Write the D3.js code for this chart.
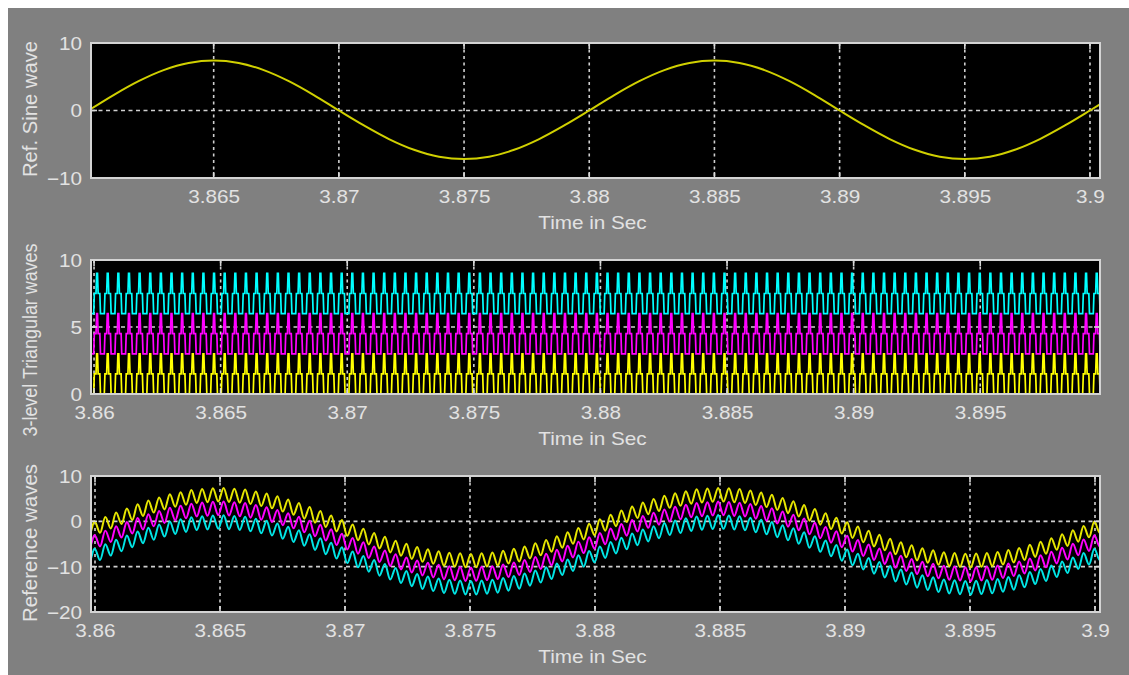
<!DOCTYPE html>
<html><head><meta charset="utf-8">
<script src="https://cdn.jsdelivr.net/npm/d3@7"></script>
<style>body{margin:0;background:#fff;} svg{display:block;}</style>
</head><body>
<svg id="chart" width="1129" height="675"></svg>
<script>
// ---------------- data ----------------
const sineStart = 3.86;
const sineStep = 0.001;
const sineValues = [
  0, 2.29, 4.35, 5.99, 7.04, 7.4, 7.04, 5.99, 4.35, 2.29,
  0, -2.22, -4.23, -5.82, -6.85, -7.2, -6.85, -5.82, -4.23, -2.22,
  0, 2.29, 4.35, 5.99, 7.04, 7.4, 7.04, 5.99, 4.35, 2.29,
  0, -2.22, -4.23, -5.82, -6.85, -7.2, -6.85, -5.82, -4.23, -2.22,
  0, 2.29
];
// Level-shifted triangular carriers (middle panel)
const carrierNames = ["lower", "middle", "upper"];
const carrierLow = [0, 3, 6];
const carrierSpan = 3;
const carrierColors = ["#ffff00", "#ff00ff", "#00ffff"];
const carrierPeriod = 0.00042;       // s, read from the spacing of the peaks
const carrierFirstPeak = 3.86012;    // s
// one cycle of the drawn carrier: fraction of the period, normalised level
const carrierCycleFrac  = [0, 0.18, 0.24, 0.40, 0.46, 0.54, 0.60, 0.76, 0.82];
const carrierCycleLevel = [0, 0,    0.5,  0.5,  1,    1,    0.5,  0.5,  0];
// Reference waves (bottom panel): sine minus the ripple, shifted per level
const refOffsets = [0, -3, -6];
const refColors = ["#e6e600", "#ff00ff", "#00e6e6"];
const refRipple = 3;
const refPeriod = 0.00043;
const refFirstTrough = 3.8602;

// axes
const xTicks1 = [3.865, 3.87, 3.875, 3.88, 3.885, 3.89, 3.895, 3.9];
const xLabels1 = ["3.865", "3.87", "3.875", "3.88", "3.885", "3.89", "3.895", "3.9"];
const xTicks2 = [3.86, 3.865, 3.87, 3.875, 3.88, 3.885, 3.89, 3.895];
const xLabels2 = ["3.86", "3.865", "3.87", "3.875", "3.88", "3.885", "3.89", "3.895"];
const xTicks3 = [3.86, 3.865, 3.87, 3.875, 3.88, 3.885, 3.89, 3.895, 3.9];
const xLabels3 = ["3.86", "3.865", "3.87", "3.875", "3.88", "3.885", "3.89", "3.895", "3.9"];
const yTicks1 = [-10, 0, 10];
const yTicks2 = [0, 5, 10];
const yTicks3 = [-20, -10, 0, 10];
const xDomain1 = [3.8601, 3.9004];
const xDomain2 = [3.85988, 3.89973];
const xDomain3 = [3.85984, 3.9002];
const yDomain1 = [-10, 10];
const yDomain2 = [0, 10];
const yDomain3 = [-20, 10];
const yTitles = ["Ref. Sine wave", "3-level Triangular waves", "Reference waves"];
const xTitle = "Time in Sec";

// ---------------- layout ----------------
const svg = d3.select("#chart");
const FONT = "'Liberation Sans', Arial, sans-serif";
const TEXT = "#e2e2e2";
const STRETCH = 1.15;
svg.append("rect").attr("x", 8).attr("y", 8).attr("width", 1121).attr("height", 667).attr("fill", "#808080");

const plotLeft = 91, plotRight = 1100;
const panels = [
  {top: 43, bottom: 178, xDomain: xDomain1, yDomain: yDomain1, xTicks: xTicks1, xLabels: xLabels1, yTicks: yTicks1, hGrid: [0], title: yTitles[0], titleY: 109, titleLen: 136},
  {top: 260, bottom: 394, xDomain: xDomain2, yDomain: yDomain2, xTicks: xTicks2, xLabels: xLabels2, yTicks: yTicks2, hGrid: [5], title: yTitles[1], titleY: 340, titleLen: 193},
  {top: 476, bottom: 612, xDomain: xDomain3, yDomain: yDomain3, xTicks: xTicks3, xLabels: xLabels3, yTicks: yTicks3, hGrid: [0, -10], title: yTitles[2], titleY: 543, titleLen: 158}
];

const sineTimes = sineValues.map((v, i) => sineStart + i * sineStep);
const sineAt = d3.scaleLinear().domain(sineTimes).range(sineValues);

panels.forEach((p, pi) => {
  const x = d3.scaleLinear().domain(p.xDomain).range([plotLeft, plotRight]);
  const y = d3.scaleLinear().domain(p.yDomain).range([p.bottom, p.top]);
  p.x = x; p.y = y;
  const g = svg.append("g");
  g.append("rect").attr("x", plotLeft).attr("y", p.top).attr("width", plotRight - plotLeft)
    .attr("height", p.bottom - p.top).attr("fill", "#000");
  const clipId = "clip" + pi;
  svg.append("clipPath").attr("id", clipId).append("rect")
    .attr("x", plotLeft).attr("y", p.top).attr("width", plotRight - plotLeft).attr("height", p.bottom - p.top);

  // grid
  const grid = g.append("g").attr("clip-path", `url(#${clipId})`);
  grid.selectAll("line.v").data(p.xTicks).join("line")
    .attr("x1", d => x(d)).attr("x2", d => x(d)).attr("y1", p.top).attr("y2", p.bottom)
    .attr("stroke", "#cfcfcf").attr("stroke-width", 1.6).attr("stroke-dasharray", "3,3.5");
  grid.selectAll("line.h").data(p.hGrid).join("line")
    .attr("x1", plotLeft).attr("x2", plotRight).attr("y1", d => y(d)).attr("y2", d => y(d))
    .attr("stroke", "#cfcfcf").attr("stroke-width", 1.6).attr("stroke-dasharray", "4,3.5");
  p.g = g; p.clipId = clipId;
});

// ---- panel 1: sine
{
  const p = panels[0];
  const line = d3.line().x((d, i) => p.x(sineTimes[i])).y(d => p.y(d)).curve(d3.curveCatmullRom);
  p.g.append("path").attr("clip-path", `url(#${p.clipId})`).attr("d", line(sineValues))
    .attr("fill", "none").attr("stroke", "#d0d000").attr("stroke-width", 2);
}

// ---- panel 2: carriers
{
  const p = panels[1];
  const start = carrierFirstPeak - 0.5 * carrierPeriod - carrierPeriod * 2;
  const nCycles = Math.ceil((p.xDomain[1] - start) / carrierPeriod) + 2;
  const times = [];
  const shape = [];
  for (let n = 0; n < nCycles; n++) {
    carrierCycleFrac.forEach((f, j) => { times.push(start + (n + f) * carrierPeriod); shape.push(carrierCycleLevel[j]); });
  }
  carrierLow.forEach((low, ci) => {
    const line = d3.line().x((d, i) => p.x(times[i])).y(d => p.y(low + carrierSpan * d));
    p.g.append("path").attr("clip-path", `url(#${p.clipId})`).attr("d", line(shape))
      .attr("fill", "none").attr("stroke", carrierColors[ci]).attr("stroke-width", 1.7)
      .attr("stroke-linejoin", "miter");
  });
}

// ---- panel 3: reference waves
{
  const p = panels[2];
  const half = refPeriod / 2;
  const start = refFirstTrough - refPeriod * 2;
  const times = [];
  const ripple = [];
  for (let k = 0; start + k * half < p.xDomain[1] + refPeriod; k++) {
    times.push(start + k * half);
    ripple.push(k % 2 === 0 ? 1 : 0);
  }
  refOffsets.forEach((off, ci) => {
    const line = d3.line().x((d, i) => p.x(times[i]))
      .y((d, i) => p.y(sineAt(Math.min(Math.max(times[i], sineTimes[0]), sineTimes[sineTimes.length - 1])) - refRipple * d + off))
      .curve(d3.curveCatmullRom);
    p.g.append("path").attr("clip-path", `url(#${p.clipId})`).attr("d", line(ripple))
      .attr("fill", "none").attr("stroke", refColors[ci]).attr("stroke-width", 2);
  });
}

// ---- frames, ticks, labels
panels.forEach(p => {
  const g = p.g;
  const tk = g.append("g");
  p.xTicks.forEach(t => {
    tk.append("line").attr("x1", p.x(t)).attr("x2", p.x(t)).attr("y1", p.top).attr("y2", p.top + 6);
    tk.append("line").attr("x1", p.x(t)).attr("x2", p.x(t)).attr("y1", p.bottom).attr("y2", p.bottom - 6);
  });
  p.yTicks.forEach(t => {
    tk.append("line").attr("x1", plotLeft).attr("x2", plotLeft + 6).attr("y1", p.y(t)).attr("y2", p.y(t));
    tk.append("line").attr("x1", plotRight).attr("x2", plotRight - 6).attr("y1", p.y(t)).attr("y2", p.y(t));
  });
  tk.selectAll("line").attr("stroke", "#d8d8d8").attr("stroke-width", 1.6);
  g.append("rect").attr("x", plotLeft).attr("y", p.top).attr("width", plotRight - plotLeft)
    .attr("height", p.bottom - p.top).attr("fill", "none").attr("stroke", "#d4d4d4").attr("stroke-width", 2);

  const ax = g.append("g").attr("transform", `translate(0,${p.bottom})`)
    .call(d3.axisBottom(p.x).tickValues(p.xTicks).tickFormat((d, i) => p.xLabels[i]).tickSize(0));
  ax.select(".domain").remove();
  ax.selectAll("text").attr("y", 25).attr("dy", null).attr("transform", `scale(${STRETCH},1)`)
    .attr("fill", TEXT).attr("font-size", 18).attr("font-family", FONT);
  ax.attr("font-family", null).attr("font-size", null);

  const ay = g.append("g").attr("transform", `translate(${plotLeft},0)`)
    .call(d3.axisLeft(p.y).tickValues(p.yTicks).tickFormat(d3.format("d")).tickSize(0));
  ay.select(".domain").remove();
  ay.selectAll("text").attr("x", -9 / STRETCH).attr("dy", "0.36em").attr("transform", `scale(${STRETCH},1)`)
    .attr("fill", TEXT).attr("font-size", 18).attr("font-family", FONT);
  ay.attr("font-family", null).attr("font-size", null);

  g.append("text").attr("transform", `translate(${(plotLeft + plotRight) / 2 - 3},${p.bottom + 51}) scale(${STRETCH},1)`)
    .attr("text-anchor", "middle").attr("fill", TEXT).attr("font-size", 18).attr("font-family", FONT).text(xTitle);
  g.append("text").attr("transform", `translate(37,${p.titleY}) rotate(-90) scale(1,${STRETCH})`)
    .attr("text-anchor", "middle").attr("fill", TEXT).attr("font-size", 18).attr("font-family", FONT)
    .attr("textLength", p.titleLen).attr("lengthAdjust", "spacingAndGlyphs").text(p.title);
});
</script>
</body></html>
